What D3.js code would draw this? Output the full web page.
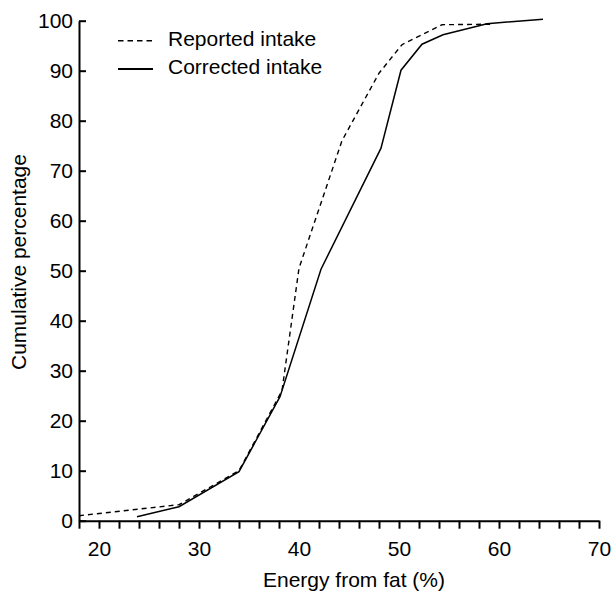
<!DOCTYPE html>
<html>
<head>
<meta charset="utf-8">
<script src="https://cdn.jsdelivr.net/npm/d3@7"></script>
<style>
  body { margin: 0; background: #fff; }
  text { font-family: "Liberation Sans", Arial, sans-serif; }
</style>
</head>
<body>
<div id="fat-chart"></div>
<script>
// Data: [energy from fat %, cumulative %]
const reportedX = [18, 28, 34, 38.3, 40, 44.3, 48, 50.3, 54.3, 59.5];
const reportedY = [1, 3.2, 10, 26, 50.5, 76, 89.5, 95.2, 99.2, 99.3];
const correctedX = [23.8, 28, 34, 38.1, 42.2, 48.2, 50.2, 52.3, 54.4, 58.8, 64.4];
const correctedY = [0.8, 2.8, 9.8, 24.8, 50.3, 74.5, 90.1, 95.3, 97.2, 99.4, 100.3];
const xTicks = d3.range(18, 71, 2);
const xLabels = [20, 30, 40, 50, 60, 70];
const yTicks = [0, 10, 20, 30, 40, 50, 60, 70, 80, 90, 100];
const seriesNames = ["Reported intake", "Corrected intake"];

// Set up the dimensions of the chart
const margin = { top: 20.7, right: 14, bottom: 73.3, left: 79 }
const width = 613 - margin.left - margin.right
const height = 594 - margin.top - margin.bottom

const svg = d3
  .select("#fat-chart")
  .append("svg")
  .attr("width", width + margin.left + margin.right)
  .attr("height", height + margin.top + margin.bottom)
  .append("g")
  .attr("transform", "translate(" + margin.left + "," + margin.top + ")");

const x = d3.scaleLinear()
  .domain([18, 70])
  .range([0, width]);

const y = d3.scaleLinear()
  .domain([0, 100])
  .range([height, 0]);

const xAxis = d3.axisBottom(x)
  .tickValues(xTicks)
  .tickSize(8)
  .tickSizeOuter(0)
  .tickPadding(12)
  .tickFormat(d => xLabels.includes(d) ? d : "");

const yAxis = d3.axisLeft(y)
  .tickValues(yTicks)
  .tickSize(-7)
  .tickSizeOuter(0)
  .tickPadding(6);

svg.append("g")
  .attr("class", "x axis")
  .attr("transform", "translate(0," + height + ")")
  .call(xAxis)
  .call(g => g.selectAll("path, line").style("stroke", "#000").style("stroke-width", 2))
  .call(g => g.selectAll("text").style("font-size", "21px").style("fill", "#000"));

svg.append("g")
  .attr("class", "y axis")
  .call(yAxis)
  .call(g => g.selectAll("path, line").style("stroke", "#000").style("stroke-width", 2))
  .call(g => g.selectAll("text").style("font-size", "21px").style("fill", "#000"));

const line = d3.line()
  .x(d => x(d[0]))
  .y(d => y(d[1]));

const reported = reportedX.map((v, i) => [v, reportedY[i]]);
const corrected = correctedX.map((v, i) => [v, correctedY[i]]);

svg.append("path")
  .datum(reported)
  .attr("d", line)
  .attr("fill", "none")
  .attr("stroke", "#000")
  .attr("stroke-width", 1.4)
  .attr("stroke-dasharray", "5 4");

svg.append("path")
  .datum(corrected)
  .attr("d", line)
  .attr("fill", "none")
  .attr("stroke", "#000")
  .attr("stroke-width", 1.5);

// Legend
const legend = svg.append("g")
  .attr("transform", "translate(" + (118 - margin.left) + "," + (40.7 - margin.top) + ")");

legend.selectAll("line")
  .data(seriesNames)
  .enter().append("line")
  .attr("x1", 0)
  .attr("x2", 35)
  .attr("y1", (d, i) => i * 28.3)
  .attr("y2", (d, i) => i * 28.3)
  .attr("stroke", "#000")
  .attr("stroke-width", (d, i) => i === 0 ? 1.4 : 1.8)
  .attr("stroke-dasharray", (d, i) => i === 0 ? "5.5 4" : null);

legend.selectAll("text")
  .data(seriesNames)
  .enter().append("text")
  .attr("x", 50)
  .attr("y", (d, i) => i * 28.3 - 2)
  .attr("dy", "0.35em")
  .style("font-size", "21px")
  .style("fill", "#000")
  .text(d => d);

// Axis titles
svg.append("text")
  .attr("x", width / 2 + 15)
  .attr("y", height + 66)
  .style("text-anchor", "middle")
  .style("font-size", "21px")
  .style("fill", "#000")
  .text("Energy from fat (%)");

svg.append("text")
  .attr("transform", "translate(" + (26 - margin.left) + "," + (262 - margin.top) + ") rotate(-90)")
  .style("text-anchor", "middle")
  .style("font-size", "21px")
  .style("fill", "#000")
  .text("Cumulative percentage");
</script>
</body>
</html>
